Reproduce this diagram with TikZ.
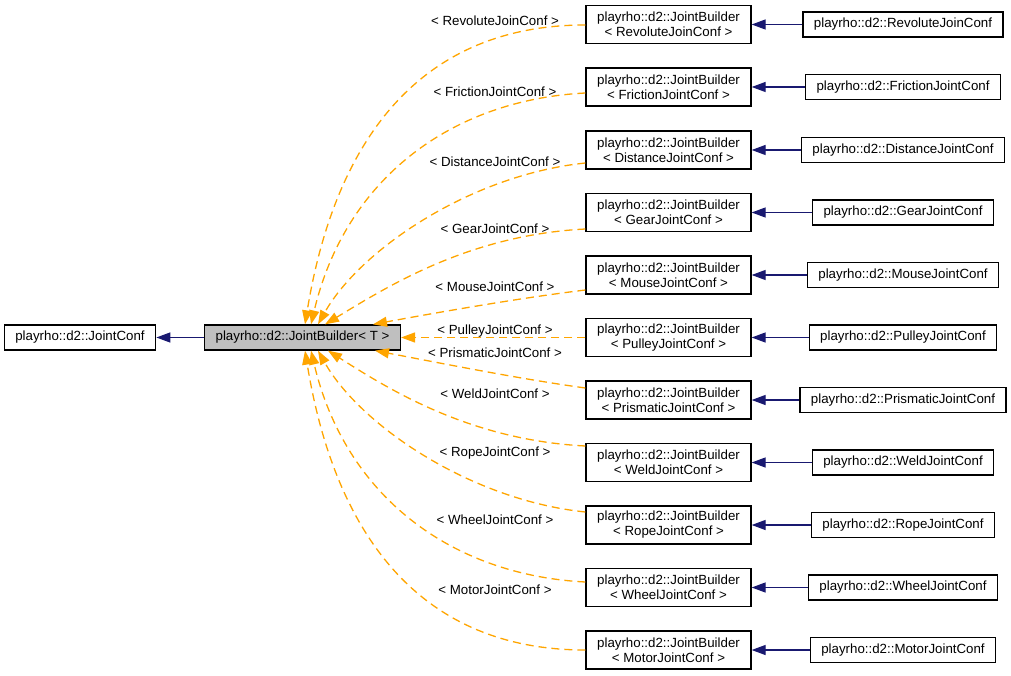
\documentclass[tikz,border=0pt]{standalone}
\usepackage{fontspec}
\setmainfont{Liberation Sans}
\usepackage{xcolor}
\usepackage{tikz}
\usetikzlibrary{arrows.meta}
\definecolor{inhblue}{HTML}{191970}
\definecolor{tplorange}{HTML}{FFA500}
\definecolor{boxgray}{HTML}{BFBFBF}

\begin{document}
\begin{tikzpicture}[x=1pt, y=-1pt, font=\fontsize{13.3}{15}\selectfont,
  cls/.style={draw=black, line width=1.3pt, inner xsep=11pt, inner ysep=0pt, minimum height=25pt},
  tmpl/.style={draw=black, line width=1.3pt, align=center, minimum width=165pt, minimum height=38pt, inner sep=0pt},
  inh/.style={inhblue, line width=1.3pt, -{Triangle[length=14pt,width=10pt]}},
  inst/.style={tplorange, line width=1.3pt, dash pattern=on 8pt off 5pt, -{Triangle[length=14pt,width=10pt]}},
  lbl/.style={inner sep=1pt}]
  \useasboundingbox (0,0) rectangle (1011,676);
  % base and template
  \node[cls] (jc) at (80,337.5) {playrho::d2::JointConf};
  \node[cls, fill=boxgray] (jb) at (302.5,337.5) {playrho::d2::JointBuilder< T >};
  \draw[inh] (jb.west) -- (jc.east);
  % instantiations (middle column)
  \node[tmpl] (mRev) at (668.5,24.5)  {playrho::d2::JointBuilder\\< RevoluteJoinConf >};
  \node[tmpl] (mFri) at (668.5,87)    {playrho::d2::JointBuilder\\< FrictionJointConf >};
  \node[tmpl] (mDis) at (668.5,150)   {playrho::d2::JointBuilder\\< DistanceJointConf >};
  \node[tmpl] (mGea) at (668.5,212.5) {playrho::d2::JointBuilder\\< GearJointConf >};
  \node[tmpl] (mMou) at (668.5,275)   {playrho::d2::JointBuilder\\< MouseJointConf >};
  \node[tmpl] (mPul) at (668.5,337.5) {playrho::d2::JointBuilder\\< PulleyJointConf >};
  \node[tmpl] (mPri) at (668.5,400)   {playrho::d2::JointBuilder\\< PrismaticJointConf >};
  \node[tmpl] (mWel) at (668.5,462.5) {playrho::d2::JointBuilder\\< WeldJointConf >};
  \node[tmpl] (mRop) at (668.5,525)   {playrho::d2::JointBuilder\\< RopeJointConf >};
  \node[tmpl] (mWhe) at (668.5,587.5) {playrho::d2::JointBuilder\\< WheelJointConf >};
  \node[tmpl] (mMot) at (668.5,650)   {playrho::d2::JointBuilder\\< MotorJointConf >};
  % concrete confs (right column)
  \node[cls] (rRev) at (903,24.5)  {playrho::d2::RevoluteJoinConf};
  \node[cls] (rFri) at (903,87)    {playrho::d2::FrictionJointConf};
  \node[cls] (rDis) at (903,150)   {playrho::d2::DistanceJointConf};
  \node[cls] (rGea) at (903,212.5) {playrho::d2::GearJointConf};
  \node[cls] (rMou) at (903,275)   {playrho::d2::MouseJointConf};
  \node[cls] (rPul) at (903,337.5) {playrho::d2::PulleyJointConf};
  \node[cls] (rPri) at (903,400)   {playrho::d2::PrismaticJointConf};
  \node[cls] (rWel) at (903,462.5) {playrho::d2::WeldJointConf};
  \node[cls] (rRop) at (903,525)   {playrho::d2::RopeJointConf};
  \node[cls] (rWhe) at (903,587.5) {playrho::d2::WheelJointConf};
  \node[cls] (rMot) at (903,650)   {playrho::d2::MotorJointConf};
  % inheritance right -> middle
  \draw[inh] (rRev.west) -- (mRev.east);
  \draw[inh] (rFri.west) -- (mFri.east);
  \draw[inh] (rDis.west) -- (mDis.east);
  \draw[inh] (rGea.west) -- (mGea.east);
  \draw[inh] (rMou.west) -- (mMou.east);
  \draw[inh] (rPul.west) -- (mPul.east);
  \draw[inh] (rPri.west) -- (mPri.east);
  \draw[inh] (rWel.west) -- (mWel.east);
  \draw[inh] (rRop.west) -- (mRop.east);
  \draw[inh] (rWhe.west) -- (mWhe.east);
  \draw[inh] (rMot.west) -- (mMot.east);
  % template instantiation edges, upper half into top of jb
  \draw[inst] ([yshift=-0.5pt]mRev.west) .. controls (420,25) and (335,140) .. ([xshift=2.5pt]jb.north);
  \draw[inst] ([yshift=-6pt]mFri.west) .. controls (450,100) and (345,180) .. ([xshift=8.5pt]jb.north);
  \draw[inst] ([yshift=-13pt]mDis.west) .. controls (470,175) and (360,250) .. ([xshift=15.5pt]jb.north);
  \draw[inst] ([yshift=-16.5pt]mGea.west) .. controls (470,235) and (390,285) .. ([xshift=22.5pt]jb.north);
  \draw[inst] ([yshift=-15pt]mMou.west) .. controls (520,298) and (440,312) .. ([xshift=70.5pt]jb.north);
  \draw[inst] (mPul.west) -- (jb.east);
  % lower half into bottom of jb
  \draw[inst] ([yshift=12pt]mPri.west) .. controls (520,379) and (440,363) .. ([xshift=72.5pt]jb.south);
  \draw[inst] ([yshift=16.5pt]mWel.west) .. controls (470,440) and (390,390) .. ([xshift=25.5pt]jb.south);
  \draw[inst] ([yshift=13pt]mRop.west) .. controls (470,500) and (360,425) .. ([xshift=15.5pt]jb.south);
  \draw[inst] ([yshift=5.5pt]mWhe.west) .. controls (450,575) and (345,495) .. ([xshift=8.5pt]jb.south);
  \draw[inst] (mMot.west) .. controls (420,650) and (335,535) .. ([xshift=2.5pt]jb.south);
  % edge labels
  \node[lbl] (lRev) at (495,21)  {< RevoluteJoinConf >};
  \node[lbl] (lFri) at (495,92)  {< FrictionJointConf >};
  \node[lbl] (lDis) at (495,162) {< DistanceJointConf >};
  \node[lbl] (lGea) at (495,229) {< GearJointConf >};
  \node[lbl] (lMou) at (495,287) {< MouseJointConf >};
  \node[lbl] (lPul) at (495,331) {< PulleyJointConf >};
  \node[lbl] (lPri) at (495,353) {< PrismaticJointConf >};
  \node[lbl] (lWel) at (495,394) {< WeldJointConf >};
  \node[lbl] (lRop) at (495,453) {< RopeJointConf >};
  \node[lbl] (lWhe) at (495,520) {< WheelJointConf >};
  \node[lbl] (lMot) at (495,590) {< MotorJointConf >};
\end{tikzpicture}
\end{document}
